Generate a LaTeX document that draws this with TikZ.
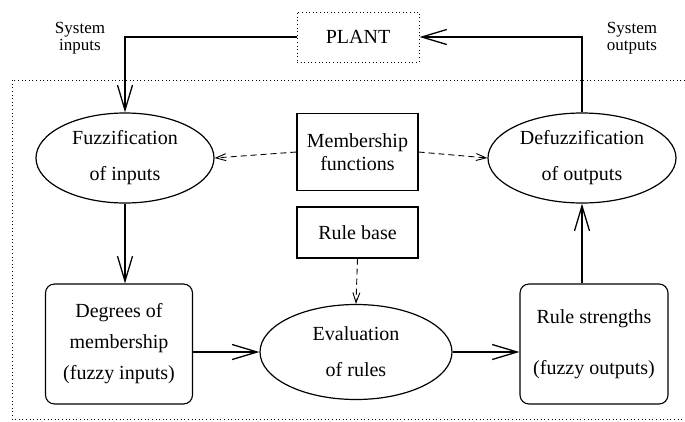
\documentclass[tikz,border=0pt]{standalone}
\usepackage{fontspec}
\setmainfont{Liberation Serif}
\usetikzlibrary{shapes.geometric,arrows.meta}
\begin{document}
\begin{tikzpicture}[x=1pt,y=-1pt,
  every node/.style={inner sep=0pt,font=\fontsize{20}{23}\selectfont},
  blk/.style={draw,line width=1.1pt,rectangle,align=center},
  rblk/.style={blk,rounded corners=9pt},
  oval/.style={draw,line width=1.2pt,ellipse,align=center,font=\fontsize{20}{36}\selectfont},
  flow/.style={line width=1.3pt,-{Straight Barb[length=25pt,width=15pt,line width=1.3pt]}},
  hint/.style={line width=0.9pt,dash pattern=on 6pt off 4pt,-{Straight Barb[length=10pt,width=7pt,line width=0.9pt]}},
  dotbox/.style={line width=1pt,dash pattern=on 1pt off 2.6pt},
  lbl/.style={align=center,font=\fontsize{17}{17.5}\selectfont}]
  \useasboundingbox (0,0) rectangle (685,421);

  % controller boundary (open on the right)
  \draw[dotbox] (685,80) -- (12,80) -- (12,419) -- (685,419);

  \node[blk,dotbox,draw,minimum width=122pt,minimum height=50pt] (plant) at (358,37) {PLANT};

  \node[oval,minimum width=178pt,minimum height=90pt] (fuzz) at (125,158) {Fuzzification\\of inputs};
  \node[oval,minimum width=188pt,minimum height=90pt] (defuzz) at (582,158) {Defuzzification\\of outputs};
  \node[blk,minimum width=121pt,minimum height=77pt] (mf) at (357.5,152) {Membership\\functions};
  \node[blk,minimum width=121pt,minimum height=51pt] (rb) at (357.5,232.5) {Rule base};
  \node[oval,minimum width=192pt,minimum height=95pt] (eval) at (356,352) {Evaluation\\of rules};
  \node[rblk,minimum width=147pt,minimum height=120pt,font=\fontsize{20}{31}\selectfont] (deg) at (119,344) {Degrees of\\membership\\(fuzzy inputs)};
  \node[rblk,minimum width=148pt,minimum height=120pt,font=\fontsize{20}{51}\selectfont] (rs) at (594,344) {Rule strengths\\(fuzzy outputs)};

  \node[lbl] (sin) at (80,38) {System\\inputs};
  \node[lbl] (sout) at (632,38) {System\\outputs};

  % main signal path
  \draw[flow] (plant.west) -| (fuzz.north);
  \draw[flow] (fuzz.south) -- (fuzz.south |- deg.north);
  \draw[flow] (deg.east |- eval.west) -- (eval.west);
  \draw[flow] (eval.east) -- (eval.east -| rs.west);
  \draw[flow] (rs.north -| defuzz.south) -- (defuzz.south);
  \draw[flow] (defuzz.north) |- (plant.east);

  % knowledge base links
  \draw[hint] (mf.west) -- (fuzz.east);
  \draw[hint] (mf.east) -- (defuzz.west);
  \draw[hint] (rb.south) -- (eval.north);
\end{tikzpicture}
\end{document}
